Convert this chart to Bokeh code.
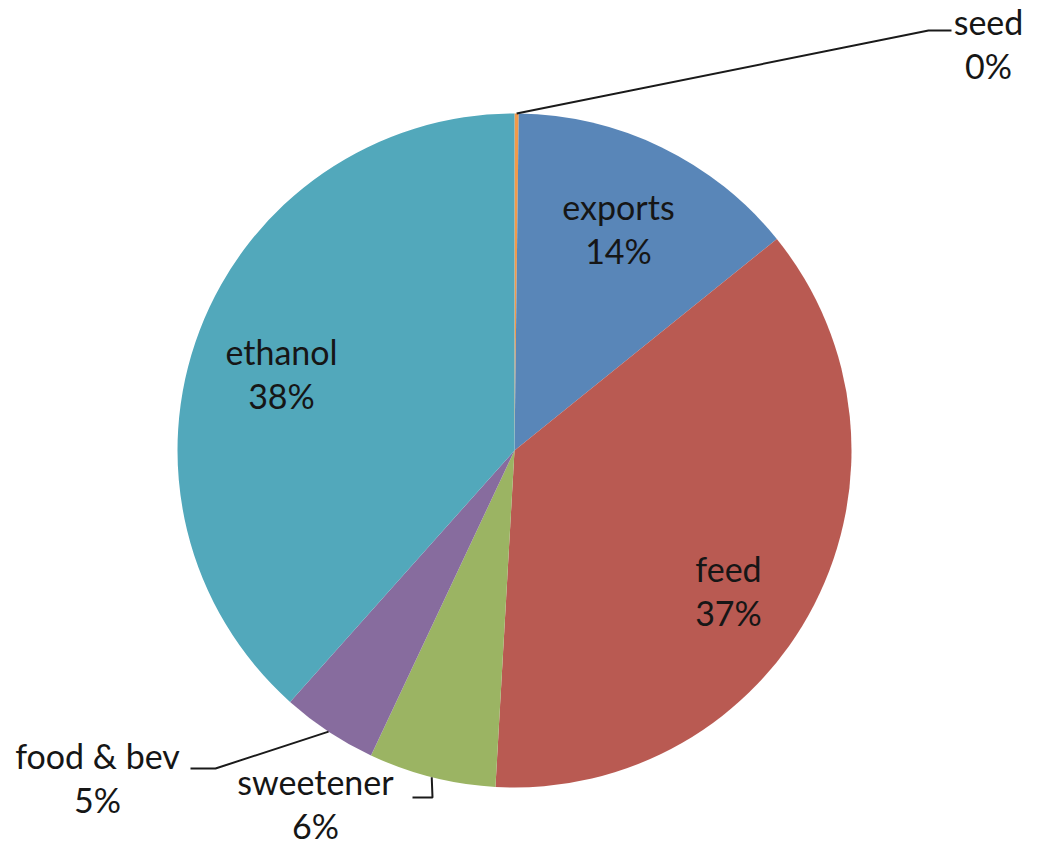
import math
from bokeh.plotting import figure
from bokeh.models import Range1d, ColumnDataSource
from bokeh.core.properties import value
from bokeh.embed import file_html
from bokeh.resources import INLINE

# ---- data ----
categories = ["seed", "exports", "feed", "sweetener", "food & bev", "ethanol"]
shares = [0.2, 14.0, 36.7, 6.1, 4.6, 38.4]
colors = ["#F39A4A", "#5986B8", "#B95A52", "#9BB463", "#876C9E", "#52A8BB"]

# ---- layout (pixel-like coords, y measured upward from the bottom of a 864px frame) ----
W, H = 1025, 848
FRAME_H = 864
CX, CY, R = 514, FRAME_H - 450, 337
label_pos = {
    "seed": (988, 43),
    "exports": (618, 228),
    "feed": (728, 590),
    "sweetener": (315, 803),
    "food & bev": (97, 777),
    "ethanol": (281, 373),
}
leader_elbow = {
    "seed": [(928, 30), (951, 30)],
    "sweetener": [(432, 797), (412, 797)],
    "food & bev": [(215, 768), (190, 768)],
}

p = figure(width=W, height=H, output_backend="svg", toolbar_location=None,
           x_range=Range1d(0, W), y_range=Range1d(FRAME_H - H, FRAME_H),
           min_border=0, outline_line_color=None, background_fill_color="white")
p.xaxis.visible = False
p.yaxis.visible = False
p.grid.visible = False

total = sum(shares)
starts, ends, mids = [], [], []
cum = 0.0
for v in shares:
    a0 = cum / total
    cum += v
    a1 = cum / total
    starts.append(math.pi / 2 - 2 * math.pi * a0)
    ends.append(math.pi / 2 - 2 * math.pi * a1)
    mids.append(math.pi / 2 - 2 * math.pi * (a0 + a1) / 2)

src = ColumnDataSource(dict(x=[CX] * len(shares), y=[CY] * len(shares),
                            start=starts, end=ends, color=colors))
p.wedge(x="x", y="y", radius=R, start_angle="start", end_angle="end",
        direction="clock", fill_color="color", line_color=None, source=src)

# leader lines
for i, cat in enumerate(categories):
    if cat in leader_elbow:
        ex = CX + R * math.cos(mids[i])
        ey = CY + R * math.sin(mids[i])
        xs = [ex] + [pt[0] for pt in leader_elbow[cat]]
        ys = [ey] + [FRAME_H - pt[1] for pt in leader_elbow[cat]]
        p.line(xs, ys, line_color="#1a1a1a", line_width=2)

# labels
tx, ty, tt = [], [], []
for cat, v in zip(categories, shares):
    lx, ly = label_pos[cat]
    tx.append(lx)
    ty.append(FRAME_H - ly)
    tt.append(f"{cat}\n{round(v / total * 100):.0f}%")
p.text(x=tx, y=ty, text=tt, text_align="center", text_baseline="middle",
       text_font=value("Lato"), text_font_size="34px", text_color="#161616",
       text_line_height=1.06)

open("out.html", "w").write(file_html(p, INLINE))
